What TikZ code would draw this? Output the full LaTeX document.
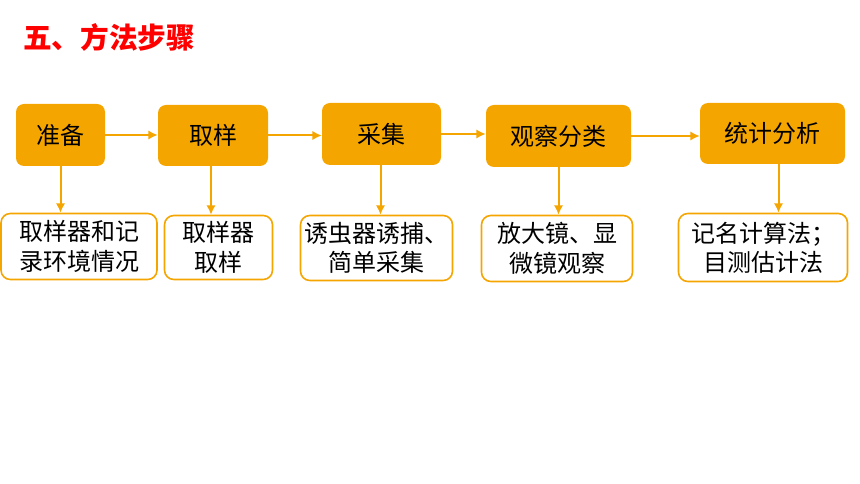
\documentclass[tikz,border=0pt]{standalone}
\usepackage{fontspec}
\newfontfamily\cjk{Noto Sans CJK SC}
\usetikzlibrary{arrows.meta,calc}
\definecolor{stepor}{RGB}{245,165,0}
\definecolor{titred}{RGB}{255,0,0}

\begin{document}
\begin{tikzpicture}
	[
	 x = 0.75pt,
	 y = -0.75pt,
	 every node/.style = {align=center,
	                      inner sep = 0pt,
	                      font=\cjk\fontsize{18}{22}\selectfont
	                     },
	 STEP/.style = {shape=rectangle,
	                fill = stepor,
	                rounded corners=6pt},
	 DO/.style   = {shape=rectangle,
	                draw = stepor,
	                line width = 1.2pt,
	                fill = white,
	                rounded corners=7pt},
	 AR/.style   = {draw = stepor,
	                line width = 1.5pt,
	                -{Latex[length=7pt,width=7pt]}}
	]

	\newcommand{\DoA}{取样器和记\\录环境情况}
	\newcommand{\DoB}{取样器\\取样}
	\newcommand{\DoC}{诱虫器诱捕、\\简单采集}
	\newcommand{\DoD}{放大镜、显\\微镜观察}
	\newcommand{\DoE}{记名计算法；\\目测估计法}

	\useasboundingbox (0,0) rectangle (860,484);

	\node [anchor=west, text=titred, font=\cjk\bfseries\fontsize{21.5}{24}\selectfont] (T) at (23,37) {五、方法步骤};

	\node [STEP, minimum width=89*0.75pt,  minimum height=62*0.75pt] (S1) at (60.5,135)   {准备};
	\node [STEP, minimum width=110*0.75pt, minimum height=61*0.75pt] (S2) at (213,135.5)  {取样};
	\node [STEP, minimum width=119*0.75pt, minimum height=62*0.75pt] (S3) at (381.5,134)  {采集};
	\node [STEP, minimum width=145*0.75pt, minimum height=62*0.75pt] (S4) at (558.5,136)  {观察分类};
	\node [STEP, minimum width=145*0.75pt, minimum height=61*0.75pt] (S5) at (772.5,133.5) {统计分析};

	\node [DO, minimum width=156*0.75pt, minimum height=66*0.75pt] (D1) at (79,246.5)   {\DoA};
	\node [DO, minimum width=108*0.75pt, minimum height=64*0.75pt] (D2) at (218.5,247.5) {\DoB};
	\node [DO, minimum width=152*0.75pt, minimum height=65*0.75pt] (D3) at (376.5,248)   {\DoC};
	\node [DO, minimum width=151*0.75pt, minimum height=66*0.75pt] (D4) at (557,248.5)   {\DoD};
	\node [DO, minimum width=169*0.75pt, minimum height=68*0.75pt] (D5) at (763,247.5)   {\DoE};

	\foreach \a/\b in {S1/S2, S2/S3, S3/S4, S4/S5}
	  \draw [AR] (\a.east) -- (\a.east -| \b.west);

	\foreach \i/\dx in {1/0, 2/-2, 3/-1, 4/0, 5/6}
	  \draw [AR] ($(S\i.south)+(\dx,0)$) -- ($(S\i.south |- D\i.north)+(\dx,0)$);
\end{tikzpicture}
\end{document}
